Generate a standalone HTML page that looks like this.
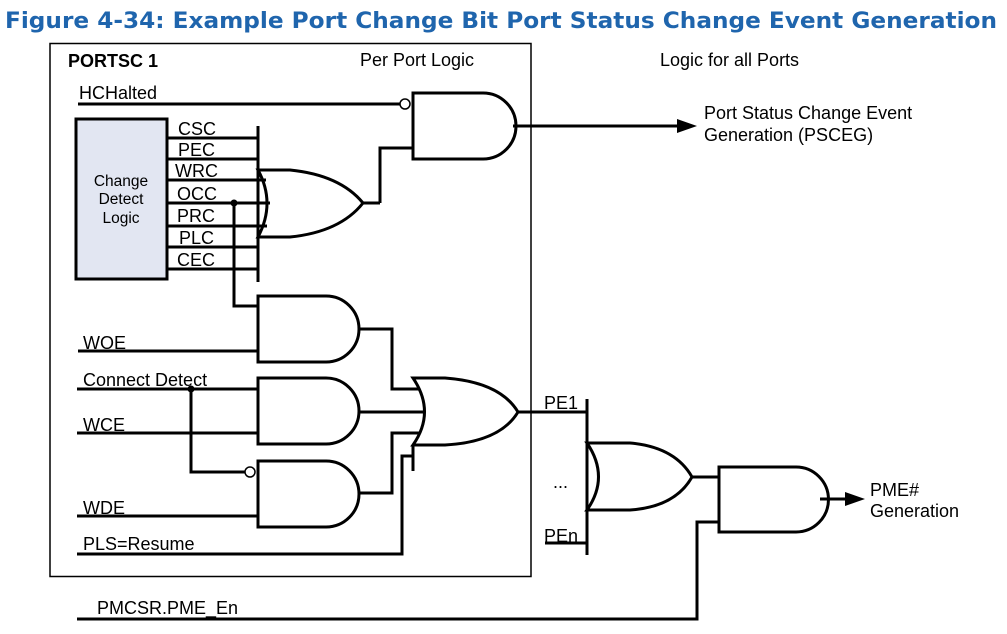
<!DOCTYPE html>
<html><head><meta charset="utf-8"><style>
html,body{margin:0;padding:0;background:#fff;}
svg{display:block;}
text{font-family:"Liberation Sans",Arial,sans-serif;font-size:18px;fill:#000;}
</style></head><body>
<svg width="1007" height="634" viewBox="0 0 1007 634" xmlns="http://www.w3.org/2000/svg">
<text x="5" y="28" style="font-family:'DejaVu Sans',Verdana,sans-serif;font-weight:bold;font-size:22px;fill:#1F65AD" textLength="992" lengthAdjust="spacingAndGlyphs">Figure 4-34: Example Port Change Bit Port Status Change Event Generation</text>
<g fill="none" stroke="#000" stroke-width="3">
<rect x="50" y="43.5" width="481" height="533" stroke-width="1.5"/>
<line x1="78" y1="104" x2="400" y2="104"/>
<circle cx="405" cy="104" r="5" stroke-width="1.5" fill="#fff"/>
<path d="M413 93 H483 A33 33 0 0 1 483 159 H413 Z"/>
<line x1="513" y1="126" x2="680" y2="126"/>
<path d="M380 203 V148 H413"/>
<rect x="76" y="119" width="91" height="160" fill="#e2e6f2"/>
<line x1="167" y1="138" x2="258" y2="138"/>
<line x1="167" y1="159" x2="258" y2="159"/>
<line x1="167" y1="180" x2="266" y2="180"/>
<line x1="167" y1="203" x2="270" y2="203"/>
<line x1="167" y1="226" x2="268" y2="226"/>
<line x1="167" y1="247" x2="258" y2="247"/>
<line x1="167" y1="269" x2="258" y2="269"/>
<line x1="258" y1="126" x2="258" y2="282"/>
<path d="M258 170 H290 Q340 175 363 203 Q340 232 290 237 H258 Q276 203 258 170 Z" fill="#fff"/>
<line x1="258" y1="180" x2="266" y2="180"/>
<line x1="258" y1="203" x2="270" y2="203"/>
<line x1="258" y1="226" x2="267" y2="226"/>
<line x1="363" y1="203" x2="380" y2="203"/>
<path d="M234 203 V306 H258"/>
<path d="M258 296 H326 A33 33 0 0 1 326 362 H258 Z"/>
<line x1="78" y1="351" x2="258" y2="351"/>
<path d="M358 329 H392 V389 H420"/>
<path d="M258 378 H326 A33 33 0 0 1 326 444 H258 Z"/>
<line x1="77" y1="389" x2="258" y2="389"/>
<line x1="77" y1="433" x2="258" y2="433"/>
<line x1="358" y1="412" x2="424" y2="412"/>
<path d="M258 461 H326 A33 33 0 0 1 326 527 H258 Z"/>
<path d="M191 389 V472 H245"/>
<circle cx="250" cy="472" r="5" stroke-width="1.5" fill="#fff"/>
<line x1="77" y1="516" x2="258" y2="516"/>
<path d="M358 493 H392 V433 H420"/>
<path d="M77 554 H402 V456 H413"/>
<path d="M413 378 H445 Q500 382 518 412 Q500 442 445 445 H413 Q436 412 413 378 Z"/>
<line x1="413" y1="445" x2="413" y2="471"/>
<line x1="518" y1="412" x2="587" y2="412"/>
<line x1="587" y1="399" x2="587" y2="555"/>
<path d="M587 443 H630 Q675 447 692 477 Q675 507 630 510 H587 Q610 477 587 443 Z"/>
<line x1="545" y1="543" x2="587" y2="543"/>
<line x1="692" y1="477" x2="719" y2="477"/>
<path d="M719 467 H796 A32.5 32.5 0 0 1 796 532 H719 Z"/>
<path d="M77 619 H697 V522 H719"/>
<line x1="820" y1="499" x2="848" y2="499"/>
</g>
<circle cx="234" cy="203" r="3.5"/>
<circle cx="191" cy="389" r="3.5"/>
<polygon points="677,119 697,126 677,133"/>
<polygon points="845,492 865,499 845,506"/>
<text x="68" y="67" style="font-weight:bold">PORTSC 1</text>
<text x="360" y="66">Per Port Logic</text>
<text x="660" y="66">Logic for all Ports</text>
<text x="704" y="119">Port Status Change Event</text>
<text x="704" y="141">Generation (PSCEG)</text>
<text x="79" y="99">HCHalted</text>
<text x="178" y="135">CSC</text>
<text x="178" y="156">PEC</text>
<text x="175" y="177">WRC</text>
<text x="177" y="200">OCC</text>
<text x="177" y="222">PRC</text>
<text x="179" y="244">PLC</text>
<text x="177" y="266">CEC</text>
<text x="121" y="186" text-anchor="middle" style="font-size:15.5px">Change</text>
<text x="121" y="204" text-anchor="middle" style="font-size:15.5px">Detect</text>
<text x="121" y="223" text-anchor="middle" style="font-size:15.5px">Logic</text>
<text x="83" y="349">WOE</text>
<text x="83" y="386">Connect Detect</text>
<text x="83" y="431">WCE</text>
<text x="83" y="514">WDE</text>
<text x="83" y="550">PLS=Resume</text>
<text x="544" y="409">PE1</text>
<text x="553" y="488">...</text>
<text x="544" y="542">PEn</text>
<text x="870" y="496">PME#</text>
<text x="870" y="517">Generation</text>
<text x="97" y="614">PMCSR.PME_En</text>
</svg>
</body></html>
